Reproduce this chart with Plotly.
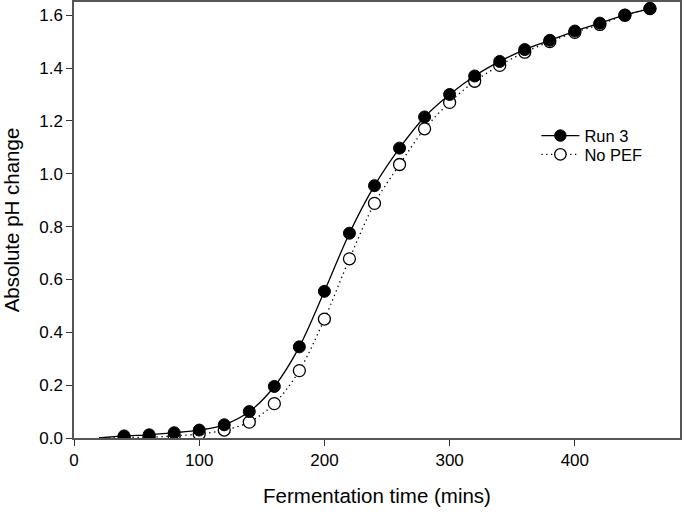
import plotly.graph_objects as go

# fermentation time (mins); first point (20) only anchors the fitted curve
time_run3 = [20, 40, 60, 80, 100, 120, 140, 160, 180, 200, 220, 240, 260, 280,
             300, 320, 340, 360, 380, 400, 420, 440, 460]
ph_run3 = [0.0, 0.008, 0.012, 0.02, 0.03, 0.05, 0.10, 0.195, 0.345, 0.555, 0.775,
           0.955, 1.097, 1.215, 1.30, 1.37, 1.425, 1.47, 1.505, 1.54, 1.57, 1.60, 1.625]

time_nopef = [20, 40, 60, 80, 100, 120, 140, 160, 180, 200, 220, 240, 260, 280,
              300, 320, 340, 360, 380, 400, 420, 440, 460]
ph_nopef = [0.0, 0.002, 0.003, 0.008, 0.015, 0.03, 0.06, 0.13, 0.255, 0.45, 0.678,
            0.888, 1.035, 1.17, 1.27, 1.35, 1.41, 1.46, 1.50, 1.535, 1.565, 1.60, 1.625]

x_ticks = [0, 100, 200, 300, 400]
y_ticks = [0.0, 0.2, 0.4, 0.6, 0.8, 1.0, 1.2, 1.4, 1.6]
y_ticklabels = ["0.0", "0.2", "0.4", "0.6", "0.8", "1.0", "1.2", "1.4", "1.6"]

def sizes(xs):
    # hide the marker on the curve anchor point
    return [0 if x == 20 else 12 for x in xs]

fig = go.Figure()
fig.add_trace(go.Scatter(
    x=time_nopef, y=ph_nopef, name="No PEF", mode="lines+markers", legend="legend2",
    line=dict(color="black", width=1.3, dash="1.3px,3.5px", shape="spline", smoothing=0.9),
    marker=dict(size=sizes(time_nopef), color="white", opacity=1,
                line=dict(color="black", width=1.3)),
))
fig.add_trace(go.Scatter(
    x=time_run3, y=ph_run3, name="Run 3", mode="lines+markers", legend="legend",
    line=dict(color="black", width=1.3, shape="spline", smoothing=0.9),
    marker=dict(size=sizes(time_run3), color="black", opacity=1,
                line=dict(color="black", width=1)),
))

leg = dict(xanchor="left", yanchor="middle", bgcolor="rgba(0,0,0,0)",
           font=dict(size=16.5), itemwidth=38)
fig.update_layout(
    width=685, height=512,
    margin=dict(l=74, r=5, t=2, b=74),
    plot_bgcolor="white", paper_bgcolor="white",
    font=dict(family="Arial, Liberation Sans, sans-serif", color="black", size=17),
    showlegend=True,
    legend=dict(leg, x=0.763, y=0.693),
    legend2=dict(leg, x=0.763, y=0.650),
)
fig.update_xaxes(
    range=[0, 484], tickvals=x_ticks, ticks="outside", ticklen=6,
    tickcolor="#333", showline=True, linecolor="#555", linewidth=1.5,
    mirror=True, showgrid=False, zeroline=False, automargin=False,
    tickfont=dict(size=17),
    title=dict(text="Fermentation time (mins)", font=dict(size=20.5), standoff=19),
)
fig.update_yaxes(
    range=[0, 1.65], tickvals=y_ticks, ticktext=y_ticklabels, ticks="outside",
    ticklen=6, tickcolor="#333", showline=True, linecolor="#555", linewidth=1.5,
    mirror=True, showgrid=False, zeroline=False, automargin=False,
    tickfont=dict(size=17),
    title=dict(text="Absolute pH change", font=dict(size=20.5), standoff=14),
)

fig.write_html("out.html", config={"displayModeBar": False},
               post_script="document.body.style.margin='0';")
